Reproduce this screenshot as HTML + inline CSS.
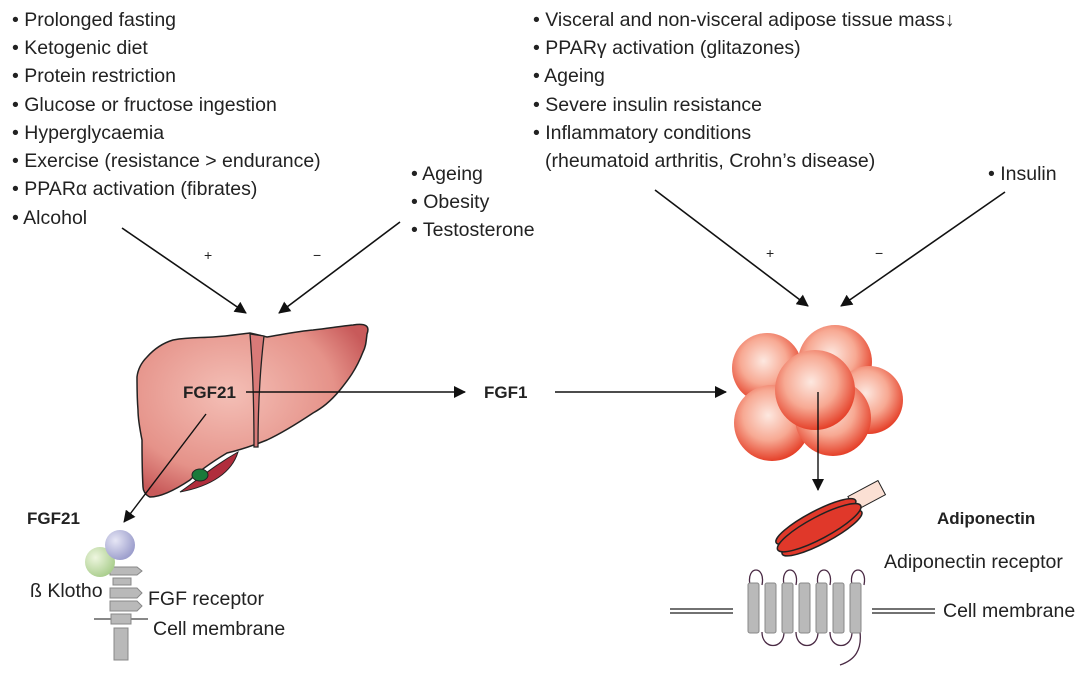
<!DOCTYPE html>
<html><head><meta charset="utf-8"><style>
body{margin:0;background:#fff;}
svg{display:block;font-family:"Liberation Sans",sans-serif;}
.t{font-size:19.5px;fill:#222;}
.b{font-size:17px;font-weight:bold;fill:#222;}
</style></head><body>
<svg width="1080" height="680" viewBox="0 0 1080 680" xmlns="http://www.w3.org/2000/svg">
<defs>
<marker id="ah" markerWidth="12" markerHeight="12" refX="11" refY="6" orient="auto" markerUnits="userSpaceOnUse" viewBox="0 0 12 12"><path d="M0,0 L12,6 L0,12z" fill="#111"/></marker>
<radialGradient id="liv" cx="40%" cy="40%" r="65%"><stop offset="0" stop-color="#f4bfb6"/><stop offset="0.7" stop-color="#e59289"/><stop offset="1" stop-color="#c85a5a"/></radialGradient>
<radialGradient id="fat" cx="45%" cy="40%" r="60%"><stop offset="0" stop-color="#fde8e0"/><stop offset="0.55" stop-color="#f7a993"/><stop offset="1" stop-color="#e5412a"/></radialGradient>
<radialGradient id="pu" cx="35%" cy="35%" r="70%"><stop offset="0" stop-color="#e6e6f5"/><stop offset="1" stop-color="#9a9ccb"/></radialGradient>
<radialGradient id="gr" cx="35%" cy="35%" r="70%"><stop offset="0" stop-color="#eef6df"/><stop offset="1" stop-color="#a9cd8c"/></radialGradient>
</defs>
<g class="t">
<text x="12" y="26">• Prolonged fasting</text>
<text x="12" y="54">• Ketogenic diet</text>
<text x="12" y="82">• Protein restriction</text>
<text x="12" y="111">• Glucose or fructose ingestion</text>
<text x="12" y="139">• Hyperglycaemia</text>
<text x="12" y="167">• Exercise (resistance &gt; endurance)</text>
<text x="12" y="195">• PPARα activation (fibrates)</text>
<text x="12" y="224">• Alcohol</text>
<text x="411" y="180">• Ageing</text>
<text x="411" y="208">• Obesity</text>
<text x="411" y="236">• Testosterone</text>
<text x="533" y="26">• Visceral and non-visceral adipose tissue mass↓</text>
<text x="533" y="54">• PPARγ activation (glitazones)</text>
<text x="533" y="82">• Ageing</text>
<text x="533" y="111">• Severe insulin resistance</text>
<text x="533" y="139">• Inflammatory conditions</text>
<text x="545" y="167">(rheumatoid arthritis, Crohn’s disease)</text>
<text x="988" y="180">• Insulin</text>
<text x="884" y="568">Adiponectin receptor</text>
<text x="943" y="617">Cell membrane</text>
<text x="30" y="597">ß Klotho</text>
<text x="148" y="605">FGF receptor</text>
<text x="153" y="635">Cell membrane</text>
</g>
<g font-size="14" fill="#222"><text x="204" y="260">+</text><text x="313" y="260">−</text><text x="766" y="258">+</text><text x="875" y="258">−</text></g>
<g stroke="#111" stroke-width="1.6" fill="none" marker-end="url(#ah)">
<line x1="122" y1="228" x2="246" y2="313"/>
<line x1="400" y1="222" x2="279" y2="313"/>
<line x1="655" y1="190" x2="808" y2="306"/>
<line x1="1005" y1="192" x2="841" y2="306"/>
</g>
<!-- liver -->
<path d="M173,340 C190,337 200,338 213,337 C230,336 240,334 250,333 L267,337 C285,334 300,331 313,330 C330,328 342,326 353,325 C366,323 370,326 367,334 C366,342 366,346 363,352 C356,370 348,380 340,390 C330,402 322,408 313,413 C295,425 282,433 267,440 C252,446 240,450 227,453 C212,462 200,470 190,480 C175,490 160,497 150,497 C145,495 143,490 143,487 C142,470 142,455 142,440 C140,430 138,420 138,410 C137,398 137,388 137,377 C138,368 142,362 147,357 C155,348 163,343 173,340Z" fill="url(#liv)" stroke="#222" stroke-width="1.5"/>
<path d="M180,492 C200,478 215,465 238,452 C232,472 212,486 180,492Z" fill="#b02d3c" stroke="#222" stroke-width="1"/>
<ellipse cx="200" cy="475" rx="8" ry="6" fill="#1a7a3a" stroke="#222"/>
<path d="M250,334 L264,336 C260,370 258,410 258,447 L254,447 C254,410 253,370 250,334Z" fill="#d97a78" stroke="#222" stroke-width="1.3"/>
<text class="b" x="183" y="398">FGF21</text>
<g stroke="#111" stroke-width="1.4" fill="none" marker-end="url(#ah)">
<line x1="246" y1="392" x2="465" y2="392"/>
<line x1="555" y1="392" x2="726" y2="392"/>
<line x1="206" y1="414" x2="124" y2="522"/>
</g>
<text class="b" x="484" y="398">FGF1</text>
<text class="b" x="27" y="524">FGF21</text>
<!-- receptor left -->
<line x1="94" y1="619" x2="148" y2="619" stroke="#888" stroke-width="2"/>
<g fill="#b9b9b9" stroke="#888">
<path d="M110,567 L137,567 L142,571 L137,575 L110,575Z"/>
<rect x="113" y="578" width="18" height="7"/>
<path d="M110,588 L137,588 L142,593 L137,598 L110,598Z"/>
<path d="M110,601 L137,601 L142,606 L137,611 L110,611Z"/>
<rect x="111" y="614" width="20" height="10"/>
<rect x="114" y="628" width="14" height="32"/>
</g>
<circle cx="100" cy="562" r="15" fill="url(#gr)"/>
<circle cx="120" cy="545" r="15" fill="url(#pu)"/>
<!-- fat cells -->
<g fill="url(#fat)">
<circle cx="767" cy="368" r="35"/>
<circle cx="835" cy="362" r="37"/>
<circle cx="869" cy="400" r="34"/>
<circle cx="772" cy="423" r="38"/>
<circle cx="833" cy="418" r="38"/>
<circle cx="815" cy="390" r="40"/>
</g>
<line x1="818" y1="392" x2="818" y2="490" stroke="#111" stroke-width="1.4" marker-end="url(#ah)"/>
<!-- adiponectin -->
<g transform="rotate(-28 820 525)">
<rect x="858" y="513" width="34" height="16" fill="#fbe0d4" stroke="#222"/>
<ellipse cx="818" cy="533" rx="45" ry="10" fill="#e0382a" stroke="#222" stroke-width="1.5"/>
<ellipse cx="818" cy="520" rx="45" ry="10" fill="#e0382a" stroke="#222" stroke-width="1.5"/>
<ellipse cx="818" cy="527" rx="47" ry="11" fill="#e0382a" stroke="#222" stroke-width="1.5"/>
</g>
<text class="b" x="937" y="524">Adiponectin</text>
<!-- receptor right -->
<g stroke="#444" stroke-width="1.5"><line x1="670" y1="609" x2="733" y2="609"/><line x1="670" y1="613" x2="733" y2="613"/><line x1="872" y1="609" x2="935" y2="609"/><line x1="872" y1="613" x2="935" y2="613"/></g>
<g fill="none" stroke="#4a2a44" stroke-width="1.3">
<path d="M750,585 C746,565 766,565 762,585"/><path d="M784,585 C780,565 800,565 796,585"/>
<path d="M818,585 C814,565 834,565 830,585"/><path d="M852,585 C848,565 868,565 864,585"/>
<path d="M762,632 C762,650 784,650 784,632"/><path d="M796,632 C796,650 818,650 818,632"/><path d="M830,632 C830,650 852,650 852,632"/>
<path d="M860,632 C862,650 855,660 840,665"/>
</g>
<g fill="#b9b9b9" stroke="#888">
<rect x="748" y="583" width="11" height="50" rx="2"/><rect x="765" y="583" width="11" height="50" rx="2"/><rect x="782" y="583" width="11" height="50" rx="2"/><rect x="799" y="583" width="11" height="50" rx="2"/><rect x="816" y="583" width="11" height="50" rx="2"/><rect x="833" y="583" width="11" height="50" rx="2"/><rect x="850" y="583" width="11" height="50" rx="2"/>
</g>
</svg>
</body></html>
